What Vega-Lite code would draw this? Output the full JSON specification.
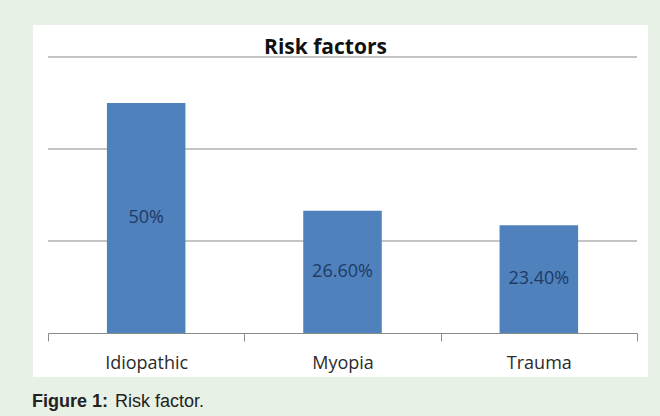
{
  "$schema": "https://vega.github.io/schema/vega-lite/v6.json",
  "width": 615,
  "height": 352,
  "autosize": {"type": "none"},
  "padding": {"left": 33, "top": 25, "right": 12, "bottom": 39},
  "background": "#e7f1e5",
  "config": {"view": {"fill": "white", "stroke": null}},
  "title": {
    "text": "Risk factors",
    "font": "Open Sans",
    "fontSize": 21,
    "fontWeight": "bold",
    "color": "#111111",
    "anchor": "middle",
    "frame": "group",
    "baseline": "alphabetic",
    "offset": -50,
    "dx": -15
  },
  "datasets": {
    "factors": [
      {"factor": "Idiopathic", "value": 50, "label": "50%"},
      {"factor": "Myopia", "value": 26.6, "label": "26.60%"},
      {"factor": "Trauma", "value": 23.4, "label": "23.40%"}
    ],
    "grid": [{"level": 20}, {"level": 40}, {"level": 60}],
    "caption": [{"bold": "Figure 1:", "rest": "Risk factor."}]
  },
  "resolve": {"scale": {"y": "independent"}},
  "layer": [
    {
      "data": {"name": "grid"},
      "mark": {"type": "rule", "color": "#8a8a8a", "strokeWidth": 1},
      "encoding": {
        "y": {"field": "level", "type": "quantitative", "scale": {"domain": [0, 60], "range": [308, 32], "nice": false, "zero": true}, "axis": null},
        "x": {"datum": "Idiopathic", "type": "nominal", "bandPosition": 0},
        "x2": {"datum": "Trauma", "bandPosition": 1}
      }
    },
    {
      "data": {"name": "factors"},
      "mark": {"type": "bar", "color": "#4f81bd", "width": {"band": 0.4}},
      "encoding": {
        "x": {
          "field": "factor",
          "type": "nominal",
          "sort": null,
          "scale": {"domain": ["Idiopathic", "Myopia", "Trauma"], "range": [15, 604], "paddingInner": 0, "paddingOuter": 0},
          "axis": {
            "orient": "bottom",
            "offset": -44,
            "title": null,
            "labelAngle": 0,
            "labelAlign": "center",
            "domainColor": "#8a8a8a",
            "domainWidth": 1,
            "tickColor": "#8a8a8a",
            "tickSize": 8,
            "tickBand": "extent",
            "labelFont": "Open Sans",
            "labelFontSize": 18,
            "labelColor": "#2b2b2b",
            "labelBaseline": "alphabetic",
            "labelPadding": 27
          }
        },
        "y": {"field": "value", "type": "quantitative", "scale": {"domain": [0, 60], "range": [308, 32], "nice": false, "zero": true}, "axis": null}
      }
    },
    {
      "data": {"name": "factors"},
      "mark": {"type": "text", "font": "Open Sans", "fontSize": 18, "color": "#1f3a63", "baseline": "middle", "align": "center"},
      "encoding": {
        "x": {"field": "factor", "type": "nominal"},
        "y": {"field": "value", "type": "quantitative", "scale": {"domain": [0, 120], "range": [308, 32], "nice": false, "zero": true}, "axis": null},
        "text": {"field": "label"}
      }
    },
    {
      "data": {"name": "caption"},
      "mark": {"type": "text", "font": "Liberation Sans", "fontSize": 18, "fontWeight": "bold", "color": "#222222", "align": "left", "baseline": "alphabetic", "dx": -16},
      "encoding": {
        "x": {"datum": "Idiopathic", "type": "nominal", "bandPosition": 0},
        "y": {"datum": -16.1, "type": "quantitative", "scale": {"domain": [0, 60], "range": [308, 32], "nice": false, "zero": true}, "axis": null},
        "text": {"field": "bold"}
      }
    },
    {
      "data": {"name": "caption"},
      "mark": {"type": "text", "font": "Liberation Sans", "fontSize": 18, "color": "#222222", "align": "left", "baseline": "alphabetic", "dx": 67},
      "encoding": {
        "x": {"datum": "Idiopathic", "type": "nominal", "bandPosition": 0},
        "y": {"datum": -16.1, "type": "quantitative", "scale": {"domain": [0, 60], "range": [308, 32], "nice": false, "zero": true}, "axis": null},
        "text": {"field": "rest"}
      }
    }
  ]
}
